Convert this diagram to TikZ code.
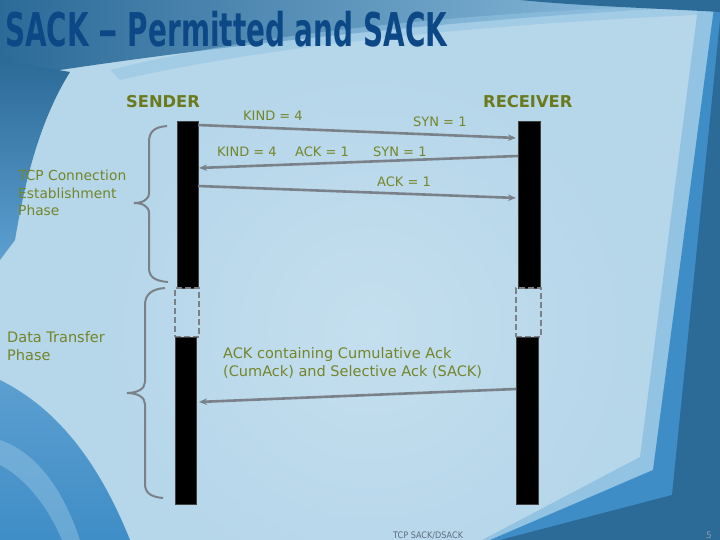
\documentclass[tikz,border=0pt]{standalone}
\usepackage{fontspec}
\setmainfont{DejaVu Sans}
\usetikzlibrary{arrows.meta}
\definecolor{bglight}{HTML}{B6D6EA}
\definecolor{bgpale}{HTML}{C4DFEE}
\definecolor{bgmid}{HTML}{5C9FD0}
\definecolor{bgmidlight}{HTML}{93C3E2}
\definecolor{bgdark}{HTML}{2C6A98}
\definecolor{bgblue}{HTML}{3F8DC7}
\definecolor{titleblue}{HTML}{0C4786}
\definecolor{olivebold}{HTML}{6A7A1C}
\definecolor{olive}{HTML}{75852A}
\definecolor{linegray}{HTML}{7A8189}
\definecolor{footgray}{HTML}{5E6E7E}
\tikzset{
  bar/.style={fill=black, draw=black!75, line width=0.8pt, inner sep=0pt, outer sep=0pt},
  dashbox/.style={draw=linegray, dashed, dash pattern=on 6pt off 3pt, line width=2.4pt, inner sep=0pt, outer sep=0pt},
  msg/.style={draw=linegray, line width=2.6pt, -{Stealth[length=8pt,width=6.5pt]}, shorten >=1pt},
  brace/.style={draw=linegray, line width=2pt},
  lbl/.style={font=\fontsize{13}{15}\selectfont, text=olive, anchor=base west, inner sep=0pt},
  biglbl/.style={font=\fontsize{14.5}{18}\selectfont, text=olive, anchor=north west, inner sep=0pt, align=left},
  hdr/.style={font=\fontsize{16.3}{18}\selectfont\bfseries, text=olivebold, anchor=base west, inner sep=0pt},
}
\begin{document}
\begin{tikzpicture}[x=1pt,y=-1pt]
\useasboundingbox (0,0) rectangle (720,540);
% ---------- background ----------
\fill[bglight] (0,0) rectangle (720,540);
\shade[inner color=bgpale, outer color=bglight] (370,330) circle (260);
% top band
\shade[left color=bgdark, right color=bgmidlight]
  (0,0) -- (720,0) -- (720,6) .. controls (520,14) and (260,40) .. (60,70) -- (0,80) -- cycle;
\fill[bgmidlight, opacity=0.55] (110,70) .. controls (250,35) and (450,12) .. (720,4) -- (720,14)
  .. controls (450,25) and (250,50) .. (120,80) -- cycle;
% left side
\shade[top color=bgdark, bottom color=bgmid]
  (0,60) -- (70,72) .. controls (40,120) and (25,180) .. (15,240) -- (0,260) -- cycle;
\shade[top color=bgmid, bottom color=bgblue]
  (0,380) .. controls (40,400) and (90,440) .. (130,540) -- (0,540) -- cycle;
\fill[bgmidlight, opacity=0.5] (0,440) .. controls (30,450) and (60,480) .. (80,540) -- (62,540) .. controls (45,500) and (20,475) .. (0,465) -- cycle;
% right / bottom-right layers
\fill[bgmidlight] (699,0) -- (640,457) -- (482,540) -- (720,540) -- (720,0) -- cycle;
\fill[bgblue] (715,0) -- (653,470) -- (490,540) -- (720,540) -- (720,0) -- cycle;
\fill[bgdark] (720,20) -- (672,495) -- (500,540) -- (720,540) -- cycle;
\fill[bgdark] (520,0) -- (720,0) -- (720,12) .. controls (650,8) and (580,6) .. (520,0) -- cycle;

% ---------- title ----------
\node[anchor=base west, inner sep=0pt, text=titleblue,
      font=\fontsize{46.5}{50}\selectfont\bfseries] (title) at (5,47)
  {\scalebox{0.6}[1]{SACK \scalebox{1.4}[1]{\textendash} Permitted and SACK}};

% ---------- headers ----------
\node[hdr] (sender) at (126,108) {SENDER};
\node[hdr] (receiver) at (483,108) {RECEIVER};

% ---------- time lines ----------
\node[bar, minimum width=21pt, minimum height=167pt] (s1) at (187.5,204.5) {};
\node[dashbox, minimum width=24pt, minimum height=49pt] (sd) at (187,312.5) {};
\node[bar, minimum width=21pt, minimum height=167pt] (s2) at (185.5,420.5) {};
\node[bar, minimum width=22pt, minimum height=167pt] (r1) at (529,204.5) {};
\node[dashbox, minimum width=25pt, minimum height=49pt] (rd) at (528.5,312.5) {};
\node[bar, minimum width=22pt, minimum height=167pt] (r2) at (527,420.5) {};

% ---------- messages ----------
\draw[msg] ([yshift=-4pt]s1.north east) -- ([yshift=-17pt,xshift=-1pt]r1.north west);
\draw[msg] ([yshift=-35pt]r1.north west) -- ([yshift=-47pt]s1.north east);
\draw[msg] ([yshift=-65pt]s1.north east) -- ([yshift=-77pt,xshift=-1pt]r1.north west);
\draw[msg] ([yshift=-52pt]r2.north west) -- ([yshift=-65pt,xshift=2pt]s2.north east);

% ---------- message labels ----------
\node[lbl] (k1) at (243,121) {KIND = 4};
\node[lbl] (y1) at (413,127) {SYN = 1};
\node[lbl] (k2) at (217,157) {KIND = 4};
\node[lbl] (c2) at (295,157) {ACK = 1};
\node[lbl] (y2) at (373,157) {SYN = 1};
\node[lbl] (c3) at (377,187) {ACK = 1};
\node[biglbl] (sack) at (223,347) {ACK containing Cumulative Ack\\(CumAck) and Selective Ack (SACK)};

% ---------- phases ----------
\draw[brace] (167,126) .. controls (154,127) and (149,132) .. (149,142) -- (149,193)
  .. controls (149,200) and (142,203) .. (134,203)
  .. controls (142,203) and (149,206) .. (149,213) -- (149,268)
  .. controls (149,277) and (155,281) .. (168,282);
\draw[brace] (165,288) .. controls (151,289) and (145,295) .. (145,305) -- (145,382)
  .. controls (145,389) and (137,393) .. (127,393)
  .. controls (137,393) and (145,397) .. (145,404) -- (145,484)
  .. controls (145,493) and (151,497) .. (163,498);
\node[biglbl, font=\fontsize{13.8}{17.5}\selectfont] (ph1) at (18,170) {TCP Connection\\Establishment\\Phase};
\node[biglbl] (ph2) at (7,331) {Data Transfer\\Phase};

% ---------- footer ----------
\node[anchor=base west, inner sep=0pt, text=footgray, font=\fontsize{9}{10}\selectfont] (foot) at (393,538) {\scalebox{0.9}[1]{TCP SACK/DSACK}};
\node[anchor=base west, inner sep=0pt, text=footgray!70, font=\fontsize{9}{10}\selectfont] (pg) at (706,538) {5};
\end{tikzpicture}
\end{document}
